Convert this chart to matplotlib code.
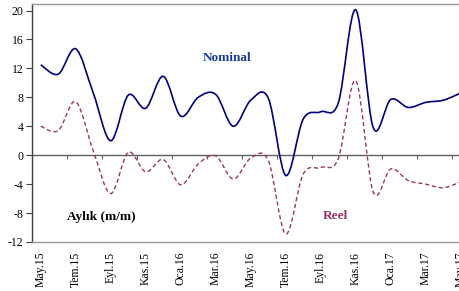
import matplotlib.pyplot as plt
from matplotlib.path import Path
from matplotlib.patches import PathPatch

# Aylık değişim (m/m), Mayıs 2015 - Mayıs 2017
months = ['May.15', 'Haz.15', 'Tem.15', 'Ağu.15', 'Eyl.15', 'Eki.15', 'Kas.15', 'Ara.15',
          'Oca.16', 'Şub.16', 'Mar.16', 'Nis.16', 'May.16', 'Haz.16', 'Tem.16', 'Ağu.16',
          'Eyl.16', 'Eki.16', 'Kas.16', 'Ara.16', 'Oca.17', 'Şub.17', 'Mar.17', 'Nis.17',
          'May.17']
nominal = [12.5, 11.2, 14.7, 8.6, 2.0, 8.3, 6.5, 10.9, 5.4, 8.0, 8.4, 4.0, 7.6,
           7.9, -2.8, 5.0, 6.0, 7.2, 20.1, 3.8, 7.7, 6.6, 7.3, 7.6, 8.6]
reel = [4.0, 3.4, 7.4, 0.6, -5.3, 0.4, -2.3, -0.6, -4.1, -1.2, -0.1, -3.3, -0.4,
        -0.7, -10.9, -2.6, -1.7, -0.5, 10.3, -5.1, -1.9, -3.5, -4.0, -4.5, -3.7]
y_ticks = [-12, -8, -4, 0, 4, 8, 12, 16, 20]

serif = ['Liberation Serif', 'DejaVu Serif']


def smooth_path(xs, ys):
    """Excel tarzı yumuşatılmış çizgi: noktalar arasında kübik Bezier eğrileri."""
    n = len(xs)
    verts = [(xs[0], ys[0])]
    codes = [Path.MOVETO]
    for i in range(n - 1):
        a = max(i - 1, 0)
        b = min(i + 2, n - 1)
        c1 = (xs[i] + (xs[i + 1] - xs[a]) / 6, ys[i] + (ys[i + 1] - ys[a]) / 6)
        c2 = (xs[i + 1] - (xs[b] - xs[i]) / 6, ys[i + 1] - (ys[b] - ys[i]) / 6)
        verts += [c1, c2, (xs[i + 1], ys[i + 1])]
        codes += [Path.CURVE4] * 3
    return Path(verts, codes)


fig = plt.figure(figsize=(4.59, 2.91), dpi=100)
ax = fig.add_axes([32 / 459, 49 / 291, 437.5 / 459, 238 / 291])

x = list(range(len(months)))
ax.add_patch(PathPatch(smooth_path(x, nominal), facecolor='none',
                       edgecolor='#000080', lw=1.2))
ax.add_patch(PathPatch(smooth_path(x, reel), facecolor='none',
                       edgecolor='#993366', lw=1.0, linestyle=(0, (3, 2))))

ax.set_xlim(-0.5, len(months) - 0.5)
ax.set_ylim(-12, 20.9)

ax.set_yticks(y_ticks)
ax.set_yticklabels([str(v) for v in y_ticks], fontfamily=serif, fontsize=8.5)
ax.tick_params(axis='y', length=4, width=0.8, color='#404040', pad=2)

ax.set_xticks(x[::2])
ax.set_xticklabels(months[::2], rotation=90, fontfamily=serif, fontsize=8.5,
                   va='top', ha='center')
ax.tick_params(axis='x', length=0, pad=7)

for side in ['top', 'bottom', 'right']:
    ax.spines[side].set_color('#9a9a9a')
    ax.spines[side].set_linewidth(1.0)
ax.spines['left'].set_color('#404040')
ax.spines['left'].set_linewidth(1.0)

# sıfır çizgisi (kategori ekseni)
zero_pos = 12 / 32.9
zax = ax.secondary_xaxis(zero_pos)
zax.set_xticks([v - 0.5 for v in x[::2]])
zax.tick_params(axis='x', length=3, width=0.8, color='#606060', labelbottom=False,
                labeltop=False, direction='out')
zax.spines['bottom'].set_color('#606060')
zax.spines['bottom'].set_linewidth(1.0)
zax.spines['top'].set_color('#606060')

ax.text(10.64, 13.5, 'Nominal', color='#1a3a9a', fontfamily=serif, fontsize=9.5,
        fontweight='bold', ha='center', va='center')
ax.text(16.84, -8.4, 'Reel', color='#993366', fontfamily=serif, fontsize=9.5,
        fontweight='bold', ha='center', va='center')
ax.text(3.44, -8.5, 'Aylık (m/m)', color='black', fontfamily=serif, fontsize=9.5,
        fontweight='bold', ha='center', va='center')

fig.savefig('out.png', dpi=100)
